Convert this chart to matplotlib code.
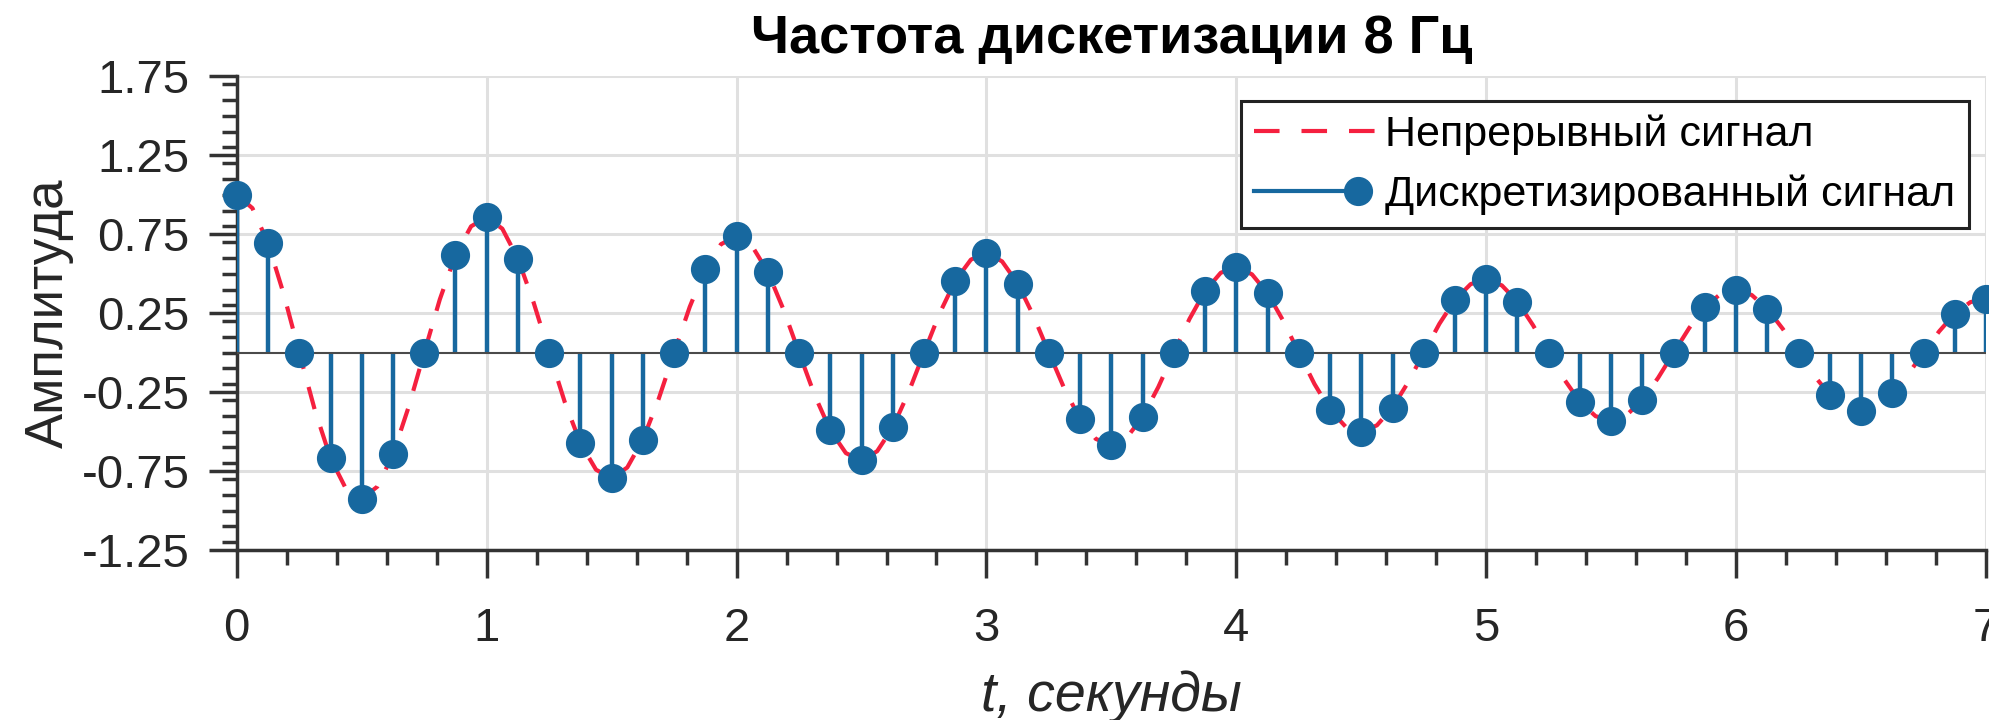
import numpy as np
import matplotlib
matplotlib.use("Agg")
import matplotlib.pyplot as plt
from matplotlib.lines import Line2D
from matplotlib.legend_handler import HandlerLine2D
from matplotlib.ticker import MultipleLocator, FixedLocator

plt.rcParams['font.family'] = ['Liberation Sans', 'DejaVu Sans']
plt.rcParams['axes.unicode_minus'] = False

# отсчёты: частота дискретизации 8 Гц, 0..7 с
t_samples = np.arange(57) / 8
y_samples = [
    1.000, 0.694, 0.000, -0.668, -0.926, -0.643, 0.000, 0.618,
    0.858, 0.595, 0.000, -0.573, -0.795, -0.551, 0.000, 0.531,
    0.736, 0.511, 0.000, -0.492, -0.682, -0.473, 0.000, 0.455,
    0.632, 0.438, 0.000, -0.422, -0.585, -0.406, 0.000, 0.391,
    0.542, 0.376, 0.000, -0.362, -0.502, -0.348, 0.000, 0.335,
    0.465, 0.323, 0.000, -0.311, -0.431, -0.299, 0.000, 0.288,
    0.399, 0.277, 0.000, -0.267, -0.370, -0.257, 0.000, 0.247,
    0.343,
]

t_cont = np.arange(113) / 16
y_cont = [
    1.000, 0.915, 0.694, 0.372, 0.000, -0.365, -0.668, -0.864,
    -0.926, -0.848, -0.643, -0.344, 0.000, 0.338, 0.618, 0.800,
    0.858, 0.785, 0.595, 0.319, 0.000, -0.313, -0.573, -0.741,
    -0.795, -0.727, -0.551, -0.296, 0.000, 0.290, 0.531, 0.687,
    0.736, 0.674, 0.511, 0.274, 0.000, -0.269, -0.492, -0.636,
    -0.682, -0.624, -0.473, -0.254, 0.000, 0.249, 0.455, 0.589,
    0.632, 0.578, 0.438, 0.235, 0.000, -0.231, -0.422, -0.546,
    -0.585, -0.536, -0.406, -0.218, 0.000, 0.214, 0.391, 0.506,
    0.542, 0.496, 0.376, 0.202, 0.000, -0.198, -0.362, -0.469,
    -0.502, -0.460, -0.348, -0.187, 0.000, 0.183, 0.335, 0.434,
    0.465, 0.426, 0.323, 0.173, 0.000, -0.170, -0.311, -0.402,
    -0.431, -0.394, -0.299, -0.160, 0.000, 0.157, 0.288, 0.372,
    0.399, 0.365, 0.277, 0.149, 0.000, -0.146, -0.267, -0.345,
    -0.370, -0.339, -0.257, -0.138, 0.000, 0.135, 0.247, 0.320,
    0.343,
]

x_ticks = [0, 1, 2, 3, 4, 5, 6, 7]
y_ticks = [-1.25, -0.75, -0.25, 0.25, 0.75, 1.25, 1.75]

RED = '#f5203f'
BLUE = '#17689f'
AXC = '#333333'
MS = 20


class StemHandler(HandlerLine2D):
    # линия с точкой на правом конце, как в MATLAB
    def create_artists(self, legend, orig_handle, xdescent, ydescent,
                       width, height, fontsize, trans):
        y = height / 2 - ydescent
        x0, x1 = -xdescent, width - xdescent
        line = Line2D([x0, x1 - 12], [y, y], color=BLUE, lw=3, transform=trans)
        dot = Line2D([x1 - 12], [y], marker='o', ms=MS, color=BLUE,
                     ls='none', transform=trans)
        return [line, dot]


fig = plt.figure(figsize=(19.9, 7.2), dpi=100)
ax = fig.add_axes([0.119, 0.236, 0.879, 0.658])

ax.plot(t_cont, y_cont, color=RED, lw=3, dashes=(5.5, 4.5), zorder=3)
markers, stems, base = ax.stem(t_samples, y_samples, linefmt='-', markerfmt='o',
                               basefmt='-')
plt.setp(stems, color=BLUE, linewidth=3.2, zorder=4)
plt.setp(markers, color=BLUE, markersize=MS, zorder=5, clip_on=False)
plt.setp(base, color='#4a4a4a', linewidth=1.5, zorder=4)

ax.set_xlim(0, 7)
ax.set_ylim(-1.25, 1.75)
ax.xaxis.set_major_locator(FixedLocator(x_ticks))
ax.xaxis.set_minor_locator(MultipleLocator(0.2))
ax.yaxis.set_major_locator(FixedLocator(y_ticks))
ax.yaxis.set_minor_locator(MultipleLocator(0.1))

for s in ['top', 'right']:
    ax.spines[s].set_visible(False)
for s in ['left', 'bottom']:
    ax.spines[s].set_linewidth(2.5)
    ax.spines[s].set_color(AXC)

ax.tick_params(which='major', direction='out', length=20, width=2.5,
               color=AXC, labelcolor='#262626', labelsize=34)
ax.tick_params(which='minor', direction='out', length=11, width=2.5, color=AXC)
ax.tick_params(axis='x', which='major', pad=21)
ax.tick_params(axis='y', which='major', pad=14)

ax.grid(True, which='major', color='#e0e0e0', linewidth=2.2)
ax.set_axisbelow(True)

ax.set_title('Частота дискетизации 8 Гц', fontsize=39, fontweight='bold', pad=17)
ax.set_xlabel('t, секунды', fontsize=40, style='italic', color='#262626')
ax.set_ylabel('Амплитуда', fontsize=38, color='#262626')
ax.xaxis.set_label_coords(0.5, -0.254)
ax.yaxis.set_label_coords(-0.093, 0.5)

# легенда: три штриха у красной линии
red_proxy = Line2D([], [], color=RED, lw=3, dashes=(6.13, 5.27))
stem_proxy = Line2D([], [], color=BLUE)
leg = ax.legend([red_proxy, stem_proxy], ['Непрерывный сигнал', 'Дискретизированный сигнал'],
                handler_map={stem_proxy: StemHandler()},
                loc='upper right', bbox_to_anchor=(0.990, 0.947), borderaxespad=0,
                fontsize=31, fancybox=False, framealpha=1, edgecolor='#222222',
                handlelength=2.8, handletextpad=0.25, borderpad=0.3, labelspacing=0.45)
leg.get_frame().set_linewidth(2.2)

fig.savefig('out.png', dpi=100)
